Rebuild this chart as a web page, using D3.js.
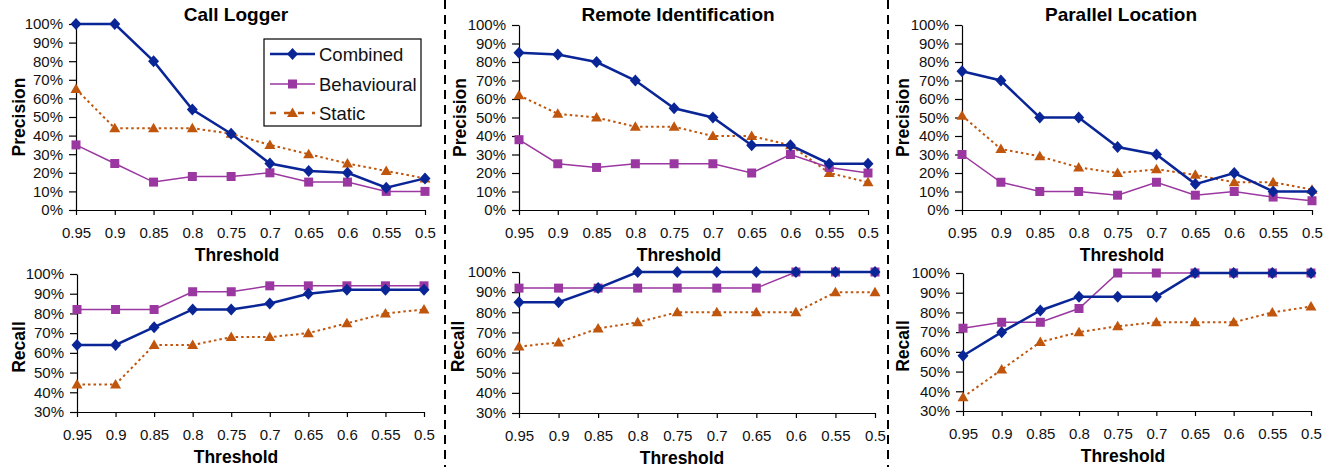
<!DOCTYPE html>
<html>
<head>
<meta charset="utf-8">
<script src="https://cdn.jsdelivr.net/npm/d3@7"></script>
<style>
  body { margin: 0; background: #fff; }
  svg { font-family: "Liberation Sans", Arial, sans-serif; }
  .tick text { font-size: 15px; fill: #111; }
  .axis-title { font-size: 17.5px; font-weight: bold; }
  .chart-title { font-size: 19px; font-weight: bold; }
</style>
</head>
<body>
<div id="chart"></div>
<script>
// Thresholds (x categories)
const thresholds = ["0.95", "0.9", "0.85", "0.8", "0.75", "0.7", "0.65", "0.6", "0.55", "0.5"];
const seriesNames = ["Combined", "Behavioural", "Static"];
const panelTitles = ["Call Logger", "Remote Identification", "Parallel Location"];

// Precision values (%)
const callLoggerPrecisionCombined = [100, 100, 80, 54, 41, 25, 21, 20, 12, 17];
const callLoggerPrecisionBehavioural = [35, 25, 15, 18, 18, 20, 15, 15, 10, 10];
const callLoggerPrecisionStatic = [65, 44, 44, 44, 41, 35, 30, 25, 21, 17];

const remotePrecisionCombined = [85, 84, 80, 70, 55, 50, 35, 35, 25, 25];
const remotePrecisionBehavioural = [38, 25, 23, 25, 25, 25, 20, 30, 23, 20];
const remotePrecisionStatic = [62, 52, 50, 45, 45, 40, 40, 35, 20, 15];

const parallelPrecisionCombined = [75, 70, 50, 50, 34, 30, 14, 20, 10, 10];
const parallelPrecisionBehavioural = [30, 15, 10, 10, 8, 15, 8, 10, 7, 5];
const parallelPrecisionStatic = [51, 33, 29, 23, 20, 22, 19, 15, 15, 11];

// Recall values (%)
const callLoggerRecallCombined = [64, 64, 73, 82, 82, 85, 90, 92, 92, 92];
const callLoggerRecallBehavioural = [82, 82, 82, 91, 91, 94, 94, 94, 94, 94];
const callLoggerRecallStatic = [44, 44, 64, 64, 68, 68, 70, 75, 80, 82];

const remoteRecallCombined = [85, 85, 92, 100, 100, 100, 100, 100, 100, 100];
const remoteRecallBehavioural = [92, 92, 92, 92, 92, 92, 92, 100, 100, 100];
const remoteRecallStatic = [63, 65, 72, 75, 80, 80, 80, 80, 90, 90];

const parallelRecallCombined = [58, 70, 81, 88, 88, 88, 100, 100, 100, 100];
const parallelRecallBehavioural = [72, 75, 75, 82, 100, 100, 100, 100, 100, 100];
const parallelRecallStatic = [37, 51, 65, 70, 73, 75, 75, 75, 80, 83];

const precisionTicks = [0, 10, 20, 30, 40, 50, 60, 70, 80, 90, 100];
const recallTicks = [30, 40, 50, 60, 70, 80, 90, 100];

// styles per series
const styles = {
  Combined:    { color: "#0a2596", width: 2.5, dash: null, marker: "diamond" },
  Behavioural: { color: "#9b37a0", width: 1.5, dash: null, marker: "square" },
  Static:      { color: "#c0560d", width: 2,   dash: "2.5,3", marker: "triangle" }
};

const W = 1330, H = 467;
const svg = d3.select("#chart").append("svg").attr("width", W).attr("height", H);

// panel layout boxes
const panels = [
  { kind: "Precision", title: panelTitles[0], x0: 76, x1: 425, y0: 24, y1: 210, domain: [0, 100], ticks: precisionTicks,
    data: [callLoggerPrecisionCombined, callLoggerPrecisionBehavioural, callLoggerPrecisionStatic],
    ylabX: 19, titleX: 236, threshX: 237, legend: true },
  { kind: "Precision", title: panelTitles[1], x0: 519, x1: 868, y0: 25, y1: 210, domain: [0, 100], ticks: precisionTicks,
    data: [remotePrecisionCombined, remotePrecisionBehavioural, remotePrecisionStatic],
    ylabX: 460, titleX: 678, threshX: 679 },
  { kind: "Precision", title: panelTitles[2], x0: 962, x1: 1312, y0: 25, y1: 210, domain: [0, 100], ticks: precisionTicks,
    data: [parallelPrecisionCombined, parallelPrecisionBehavioural, parallelPrecisionStatic],
    ylabX: 903, titleX: 1121, threshX: 1122 },
  { kind: "Recall", x0: 77, x1: 424, y0: 274, y1: 412, domain: [30, 100], ticks: recallTicks,
    data: [callLoggerRecallCombined, callLoggerRecallBehavioural, callLoggerRecallStatic],
    ylabX: 19, threshX: 236 },
  { kind: "Recall", x0: 519, x1: 875, y0: 272, y1: 413, domain: [30, 100], ticks: recallTicks,
    data: [remoteRecallCombined, remoteRecallBehavioural, remoteRecallStatic],
    ylabX: 458, threshX: 682 },
  { kind: "Recall", x0: 963, x1: 1311, y0: 273, y1: 411, domain: [30, 100], ticks: recallTicks,
    data: [parallelRecallCombined, parallelRecallBehavioural, parallelRecallStatic],
    ylabX: 903, threshX: 1123 }
];

function markerPath(type) {
  if (type === "diamond") return "M0,-6L5.5,0L0,6L-5.5,0Z";
  if (type === "square") return "M-4.5,-4.5H4.5V4.5H-4.5Z";
  return "M0,-5.5L5.5,4L-5.5,4Z";
}

// dashed separators
[445, 888].forEach(x => {
  svg.append("line")
    .attr("x1", x).attr("x2", x).attr("y1", 0).attr("y2", H)
    .attr("stroke", "#000").attr("stroke-width", 2)
    .attr("stroke-dasharray", "9,6");
});

panels.forEach(p => {
  const g = svg.append("g");

  const x = d3.scalePoint().domain(thresholds).range([p.x0, p.x1]);
  const y = d3.scaleLinear().domain(p.domain).range([p.y1, p.y0]);

  // axes
  const yAxis = g.append("g")
    .attr("transform", `translate(${p.x0},0)`)
    .call(d3.axisLeft(y).tickValues(p.ticks).tickFormat(d => d + "%").tickSize(7).tickSizeOuter(0).tickPadding(6));
  const xAxis = g.append("g")
    .attr("transform", `translate(0,${p.y1})`)
    .call(d3.axisBottom(x).tickSize(5).tickSizeOuter(0).tickPadding(12));
  [yAxis, xAxis].forEach(a => {
    a.selectAll("path, line").attr("stroke", "#000").attr("stroke-width", 1.2);
    a.selectAll("text").attr("fill", "#111").style("font-size", "15px");
  });

  // series lines (Static drawn first, Combined on top)
  const order = [2, 1, 0];
  order.forEach(i => {
    const name = seriesNames[i];
    const st = styles[name];
    const vals = p.data[i];
    const line = d3.line().x((d, j) => x(thresholds[j])).y(d => y(d));
    g.append("path")
      .datum(vals)
      .attr("d", line)
      .attr("fill", "none")
      .attr("stroke", st.color)
      .attr("stroke-width", st.width)
      .attr("stroke-dasharray", st.dash);
    g.selectAll(null)
      .data(vals)
      .enter().append("path")
      .attr("d", markerPath(st.marker))
      .attr("transform", (d, j) => `translate(${x(thresholds[j])},${y(d)})`)
      .attr("fill", st.color);
  });

  // axis titles
  const ylabY = (p.y0 + p.y1) / 2 + (p.kind === "Precision" ? 0 : 4);
  g.append("text")
    .attr("class", "axis-title")
    .attr("transform", `translate(${p.ylabX + 6},${ylabY}) rotate(-90)`)
    .attr("text-anchor", "middle")
    .text(p.kind);

  g.append("text")
    .attr("class", "axis-title")
    .attr("x", p.threshX)
    .attr("y", p.y1 + 51)
    .attr("text-anchor", "middle")
    .text("Threshold");

  if (p.title) {
    g.append("text")
      .attr("class", "chart-title")
      .attr("x", p.titleX)
      .attr("y", 21)
      .attr("text-anchor", "middle")
      .text(p.title);
  }

  if (p.legend) {
    const lg = svg.append("g");
    lg.append("rect")
      .attr("x", 264).attr("y", 39).attr("width", 157).attr("height", 87)
      .attr("fill", "#fff").attr("stroke", "#000").attr("stroke-width", 1.2);
    const rowY = [54, 84, 113];
    seriesNames.forEach((name, i) => {
      const st = styles[name];
      lg.append("line")
        .attr("x1", 270).attr("x2", 315)
        .attr("y1", rowY[i]).attr("y2", rowY[i])
        .attr("stroke", st.color)
        .attr("stroke-width", name === "Static" ? 2.5 : st.width)
        .attr("stroke-dasharray", name === "Static" ? "6,8" : null);
      lg.append("path")
        .attr("d", markerPath(st.marker))
        .attr("transform", `translate(292.5,${rowY[i]})`)
        .attr("fill", st.color);
      lg.append("text")
        .attr("x", 319).attr("y", rowY[i] + 6.5)
        .style("font-size", "18.5px")
        .attr("fill", "#111")
        .text(name);
    });
  }
});
</script>
</body>
</html>
